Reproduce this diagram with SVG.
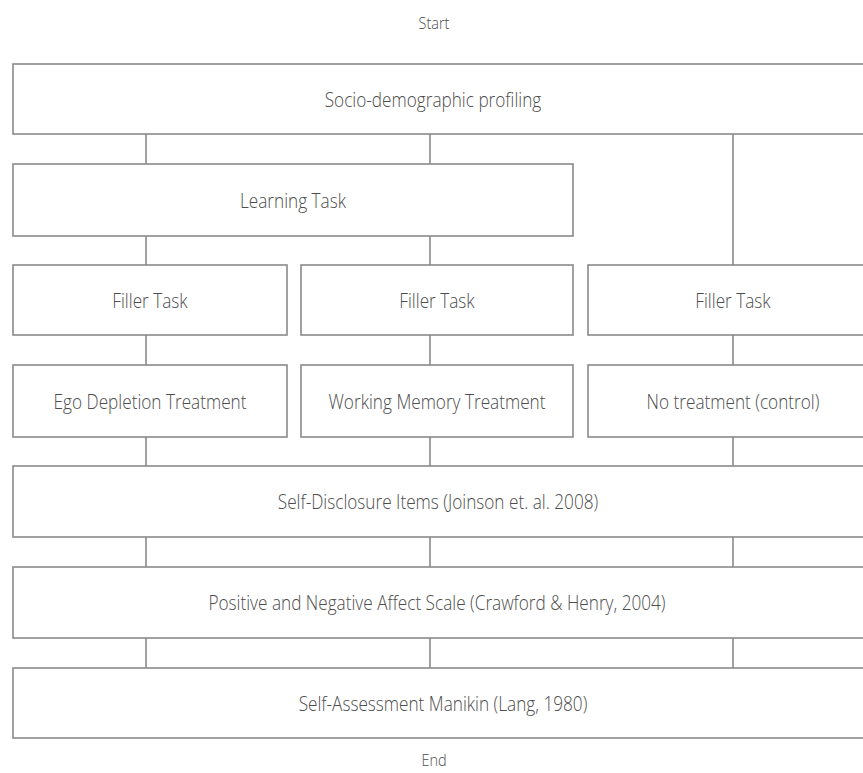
<svg xmlns="http://www.w3.org/2000/svg" width="863" height="773" viewBox="0 0 863 773">
<style>
.box{fill:#fff;stroke:#8a8a8a;stroke-width:1.6}
.ln{stroke:#8a8a8a;stroke-width:1.6;fill:none}
text{font-family:"Open Sans","Noto Sans","Liberation Sans",sans-serif;font-weight:300;fill:#4d4d4d;text-anchor:middle;dominant-baseline:central}
.t{font-size:17.2px}
.s{font-size:14.5px}
</style>
<rect width="863" height="773" fill="#fff"/>
<g id="connectors">
<line class="ln" x1="146" y1="134" x2="146" y2="164"/>
<line class="ln" x1="430" y1="134" x2="430" y2="164"/>
<line class="ln" x1="733" y1="134" x2="733" y2="265"/>
<line class="ln" x1="146" y1="236" x2="146" y2="265"/>
<line class="ln" x1="430" y1="236" x2="430" y2="265"/>
<line class="ln" x1="146" y1="335" x2="146" y2="365"/>
<line class="ln" x1="430" y1="335" x2="430" y2="365"/>
<line class="ln" x1="733" y1="335" x2="733" y2="365"/>
<line class="ln" x1="146" y1="437" x2="146" y2="466"/>
<line class="ln" x1="430" y1="437" x2="430" y2="466"/>
<line class="ln" x1="733" y1="437" x2="733" y2="466"/>
<line class="ln" x1="146" y1="537" x2="146" y2="567"/>
<line class="ln" x1="430" y1="537" x2="430" y2="567"/>
<line class="ln" x1="733" y1="537" x2="733" y2="567"/>
<line class="ln" x1="146" y1="638" x2="146" y2="668"/>
<line class="ln" x1="430" y1="638" x2="430" y2="668"/>
<line class="ln" x1="733" y1="638" x2="733" y2="668"/>
</g>
<g id="start"><text class="s" transform="translate(434 23) scale(1 1.18)">Start</text></g>
<g id="socio"><rect class="box" x="13" y="64" width="870" height="70"/><text class="t" transform="translate(433 99) scale(1 1.18)">Socio-demographic profiling</text></g>
<g id="learning"><rect class="box" x="13" y="164" width="560" height="72"/><text class="t" transform="translate(293 200) scale(1 1.18)">Learning Task</text></g>
<g id="filler1"><rect class="box" x="13" y="265" width="274" height="70"/><text class="t" transform="translate(150 300) scale(1 1.18)">Filler Task</text></g>
<g id="filler2"><rect class="box" x="301" y="265" width="272" height="70"/><text class="t" transform="translate(437 300) scale(1 1.18)">Filler Task</text></g>
<g id="filler3"><rect class="box" x="588" y="265" width="290" height="70"/><text class="t" transform="translate(733 300) scale(1 1.18)">Filler Task</text></g>
<g id="ego"><rect class="box" x="13" y="365" width="274" height="72"/><text class="t" transform="translate(150 401) scale(1 1.18)">Ego Depletion Treatment</text></g>
<g id="wm"><rect class="box" x="301" y="365" width="272" height="72"/><text class="t" transform="translate(437 401) scale(1 1.18)">Working Memory Treatment</text></g>
<g id="control"><rect class="box" x="588" y="365" width="290" height="72"/><text class="t" transform="translate(733 401) scale(1 1.18)">No treatment (control)</text></g>
<g id="selfdisclosure"><rect class="box" x="13" y="466" width="870" height="71"/><text class="t" transform="translate(438 501) scale(1 1.18)">Self-Disclosure Items (Joinson et. al. 2008)</text></g>
<g id="panas"><rect class="box" x="13" y="567" width="870" height="71"/><text class="t" transform="translate(437 602) scale(1 1.18)">Positive and Negative Affect Scale (Crawford &amp; Henry, 2004)</text></g>
<g id="sam"><rect class="box" x="13" y="668" width="870" height="70"/><text class="t" transform="translate(443 703) scale(1 1.18)">Self-Assessment Manikin  (Lang, 1980)</text></g>
<g id="end"><text class="s" transform="translate(434 760) scale(1 1.18)">End</text></g>
</svg>
